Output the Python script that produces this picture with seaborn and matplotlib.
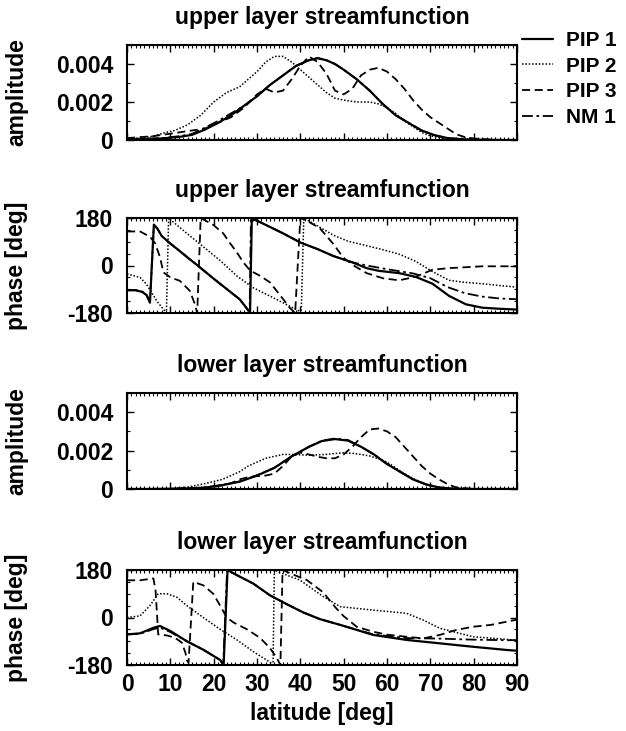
import matplotlib
matplotlib.use("Agg")
import matplotlib.pyplot as plt
import seaborn as sns
import numpy as np
from matplotlib.ticker import MultipleLocator

sns.set_theme(style="white")
plt.rcParams['font.family'] = ['Liberation Sans', 'DejaVu Sans']
plt.rcParams['font.weight'] = 'bold'
plt.rcParams['axes.titleweight'] = 'bold'
plt.rcParams['axes.labelweight'] = 'bold'
plt.rcParams['text.color'] = 'black'
plt.rcParams['axes.labelcolor'] = 'black'
plt.rcParams['xtick.color'] = 'black'
plt.rcParams['ytick.color'] = 'black'

# ---------------- data ----------------
series_names = ["PIP 1", "PIP 2", "PIP 3", "NM 1"]
panel_titles = ["upper layer streamfunction", "upper layer streamfunction",
                "lower layer streamfunction", "lower layer streamfunction"]
amp_ticks = [0, 0.002, 0.004]
amp_ticklabels = ["0", "0.002", "0.004"]
phase_ticks = [-180, 0, 180]
phase_ticklabels = ["-180", "0", "180"]
lat_ticks = [0, 10, 20, 30, 40, 50, 60, 70, 80, 90]

# upper layer amplitude
lat_amp_up_pip1 = [0, 4, 8, 12, 15, 18, 21, 24, 27, 30, 33, 36, 39, 42, 44, 46, 48, 50, 53, 56, 59, 62, 65, 68, 71, 74, 78, 82, 86, 90]
amp_up_pip1 = [0.00003, 0.00004, 0.00008, 0.00016, 0.00027, 0.00055, 0.0009, 0.0013, 0.0018, 0.0023, 0.0029, 0.0034, 0.0039, 0.0042, 0.0043, 0.0042, 0.0040, 0.0037, 0.0032, 0.0026, 0.0019, 0.0013, 0.0009, 0.0005, 0.00025, 0.0001, 0.00003, 0.00001, 0, 0]
amp_up_nm1 = [0.00004, 0.00006, 0.0001, 0.0002, 0.00032, 0.00065, 0.001, 0.0014, 0.0018, 0.0023, 0.0029, 0.0034, 0.0039, 0.0042, 0.00432, 0.0042, 0.0040, 0.0037, 0.0032, 0.0026, 0.0019, 0.0013, 0.0009, 0.0005, 0.00025, 0.0001, 0.00003, 0.00001, 0, 0]
lat_amp_up_pip2 = [0, 3, 6, 9, 11, 14, 17, 20, 23, 26, 28, 30, 32, 34, 36, 38, 40, 42, 44, 46, 48, 50, 53, 56, 58, 60, 62, 64, 66, 68, 70, 73, 76, 80, 85, 90]
amp_up_pip2 = [0.00005, 0.0001, 0.0002, 0.0004, 0.0005, 0.0008, 0.0013, 0.0020, 0.0025, 0.0028, 0.0032, 0.0036, 0.0041, 0.0044, 0.0044, 0.0041, 0.0037, 0.0033, 0.0029, 0.0025, 0.0022, 0.0021, 0.0020, 0.0020, 0.0019, 0.0017, 0.0014, 0.0010, 0.0007, 0.0004, 0.00022, 0.00008, 0.00003, 0.00001, 0, 0]
lat_amp_up_pip3 = [0, 3, 6, 9, 12, 15, 18, 21, 24, 27, 30, 32, 34, 36, 38, 40, 42, 44, 46, 48, 50, 52, 54, 56, 58, 60, 62, 64, 66, 68, 70, 72, 74, 76, 78, 80, 85, 90]
amp_up_pip3 = [0.0001, 0.00015, 0.0002, 0.0003, 0.0004, 0.0005, 0.0006, 0.0009, 0.0012, 0.0017, 0.0024, 0.0027, 0.0025, 0.0026, 0.0032, 0.0039, 0.0044, 0.0041, 0.0035, 0.0026, 0.0024, 0.0027, 0.0034, 0.0037, 0.0038, 0.0036, 0.0032, 0.0027, 0.0021, 0.0016, 0.0012, 0.0009, 0.0006, 0.0003, 0.00015, 0.00008, 0.00001, 0]

# upper layer phase
lat_ph_up_pip1 = [0, 2, 3.5, 4.5, 5.3, 6.2, 7, 8, 10, 12, 14, 16, 18, 20, 22, 24, 26, 28.4, 28.8, 30, 33, 36, 40, 44, 47.6, 52, 55.3, 58, 62.8, 66.6, 70.5, 74.3, 78.2, 82, 86, 90]
ph_up_pip1 = [-94, -94, -100, -112, -141, 155, 140, 112, 83, 57, 30, 4, -23, -50, -76, -102, -128, -178, 178, 170, 146, 122, 87, 62, 36, 12, -10, -20, -29, -43, -69, -115, -147, -160, -164, -167]
lat_ph_up_nm1 = [0, 2, 3.5, 4.5, 5.3, 6.2, 7, 8, 10, 12, 14, 16, 18, 20, 22, 24, 26, 28.3, 28.6, 30, 33, 36, 40, 44, 47.6, 52, 55.3, 60, 63, 66, 70, 74, 78, 82, 86, 90]
ph_up_nm1 = [-92, -93, -99, -110, -138, 152, 140, 112, 83, 57, 30, 4, -23, -50, -76, -102, -128, -178, 178, 170, 146, 122, 87, 62, 36, 12, 0, -14, -22, -30, -48, -82, -105, -118, -125, -128]
lat_ph_up_pip2 = [0, 3, 4.5, 6.9, 8.8, 9.1, 9.6, 10, 13.8, 17.6, 21.5, 25.3, 29.1, 33, 36.8, 39.9, 40.2, 40.8, 44, 47.6, 51, 55.3, 59, 62.8, 66.6, 70.5, 74.3, 78, 82, 86, 90]
ph_up_pip2 = [-32, -45, -71, -135, -174, -180, 180, 174, 122, 71, 19, -39, -84, -116, -148, -174, -180, 180, 150, 115, 92, 75, 60, 43, 16, -23, -56, -64, -69, -76, -82]
lat_ph_up_pip3 = [0, 3, 5.3, 6.5, 7.6, 8.4, 10, 12.2, 14.5, 15.7, 16.2, 17.0, 19.9, 22.2, 23.8, 25.3, 26.8, 28.4, 30.7, 33, 36.1, 37.6, 38.8, 40.0, 42, 44.5, 47.6, 49.9, 52.6, 55.3, 59.2, 62.8, 66.6, 70.5, 74.3, 82, 90]
ph_up_pip3 = [129, 129, 109, 84, 32, -26, -45, -58, -96, -148, -180, 180, 154, 122, 84, 51, 13, -19, -39, -64, -129, -161, -180, 180, 165, 141, 82, 30, -3, -29, -49, -56, -43, -16, -10, -3, -3]

# lower layer amplitude
lat_amp_lo_pip1 = [0, 5, 10, 14, 18, 22, 26, 30, 34, 38, 42, 45, 48, 51, 54, 57, 60, 63, 66, 69, 72, 75, 80, 85, 90]
amp_lo_pip1 = [0, 0, 0.00001, 0.00003, 0.00007, 0.0002, 0.00038, 0.0007, 0.0011, 0.0017, 0.0022, 0.0025, 0.0026, 0.00252, 0.0022, 0.0018, 0.0013, 0.0009, 0.0005, 0.00024, 0.00008, 0.00002, 0, 0, 0]
amp_lo_nm1 = [0, 0, 0.00001, 0.00003, 0.00008, 0.00021, 0.0004, 0.00072, 0.0011, 0.0017, 0.0022, 0.00252, 0.00263, 0.00255, 0.0022, 0.0018, 0.0013, 0.0009, 0.0005, 0.00024, 0.00008, 0.00002, 0, 0, 0]
lat_amp_lo_pip2 = [0, 5, 10, 14, 18, 22, 26, 28, 30, 32, 34, 36, 38, 40, 42, 44, 46, 48, 50, 52, 54, 56, 58, 60, 62, 64, 66, 68, 70, 72, 75, 80, 90]
amp_lo_pip2 = [0, 0, 0.00001, 0.0001, 0.00028, 0.0005, 0.0009, 0.0012, 0.0014, 0.0016, 0.0017, 0.0018, 0.0018, 0.00178, 0.00176, 0.00178, 0.0018, 0.00185, 0.00188, 0.00186, 0.0018, 0.00172, 0.00158, 0.0014, 0.0011, 0.0008, 0.00055, 0.00033, 0.00016, 0.00006, 0.00001, 0, 0]
lat_amp_lo_pip3 = [0, 10, 15, 20, 24, 26, 28, 30, 32, 34, 36, 38, 40, 42, 44, 46, 48, 50, 52, 54, 56, 58, 60, 62, 64, 66, 68, 70, 72, 74, 76, 80, 90]
amp_lo_pip3 = [0, 0.00001, 0.00004, 0.0001, 0.0003, 0.0005, 0.00062, 0.00067, 0.0007, 0.0008, 0.0012, 0.0017, 0.0019, 0.0018, 0.00168, 0.0016, 0.0016, 0.0018, 0.0022, 0.0027, 0.0031, 0.00315, 0.0030, 0.0027, 0.0022, 0.0017, 0.0012, 0.0008, 0.0005, 0.00025, 0.00008, 0, 0]

# lower layer phase
lat_ph_lo_pip1 = [0, 3, 6.1, 7.6, 10, 13.8, 17.6, 21.5, 22.3, 23.2, 25.3, 29.1, 33, 36.8, 40.7, 44.5, 49.2, 56.8, 64.5, 72.2, 79.9, 87.6, 90]
ph_lo_pip1 = [-64, -60, -39, -32, -51, -90, -122, -161, -180, 180, 161, 129, 84, 51, 19, -6, -28, -66, -85, -98, -111, -123, -126]
lat_ph_lo_nm1 = [0, 3, 6.1, 7.6, 10, 13.8, 17.6, 21.5, 22.2, 23.1, 25.3, 29.1, 33, 36.8, 40.7, 44.5, 49.2, 56.8, 64.5, 72.2, 79.9, 87.6, 90]
ph_lo_nm1 = [-64, -62, -44, -38, -55, -90, -122, -161, -180, 180, 161, 129, 84, 51, 19, -6, -28, -64, -78, -80, -84, -86, -86]
lat_ph_lo_pip2 = [0, 3, 5.3, 7.2, 9.2, 11.5, 13.8, 17.6, 21.5, 25.3, 29.1, 32.2, 33.4, 33.7, 34.0, 35.3, 39.9, 45.3, 49.2, 56.8, 64.5, 68.4, 72.2, 79.9, 90]
ph_lo_pip2 = [0, 6, 45, 90, 90, 77, 45, 0, -45, -84, -129, -161, -174, -180, 180, 170, 142, 79, 41, 28, 16, -10, -41, -73, -86]
lat_ph_lo_pip3 = [0, 3, 6.1, 6.6, 7.2, 9.2, 11.1, 12.7, 13.5, 13.8, 14.2, 15.3, 17.6, 19.9, 21.5, 23, 24.6, 27.7, 30.7, 33, 34.6, 35.4, 35.9, 38, 41.5, 45.3, 48, 50, 53, 56.8, 60, 64.5, 68.4, 72.2, 76, 79.9, 84, 90]
ph_lo_pip3 = [141, 141, 148, 100, -64, -68, -77, -96, -135, -161, -172, 135, 122, 90, 45, 0, -19, -45, -77, -116, -154, -180, 180, 165, 142, 95, 40, 5, -35, -54, -65, -73, -79, -66, -47, -35, -28, -8]

# ---------------- plotting ----------------
styles = {
    "PIP 1": dict(linestyle="-", lw=1.6),
    "PIP 2": dict(linestyle=(0, (1, 1.2)), lw=1.1),
    "PIP 3": dict(linestyle=(0, (4.5, 2.5)), lw=1.3),
    "NM 1": dict(linestyle=(0, (6, 2, 1.5, 2)), lw=1.3),
}

panels = [
    dict(kind="amp", data=[(lat_amp_up_pip1, amp_up_pip1), (lat_amp_up_pip2, amp_up_pip2),
                           (lat_amp_up_pip3, amp_up_pip3), (lat_amp_up_pip1, amp_up_nm1)]),
    dict(kind="ph", data=[(lat_ph_up_pip1, ph_up_pip1), (lat_ph_up_pip2, ph_up_pip2),
                          (lat_ph_up_pip3, ph_up_pip3), (lat_ph_up_nm1, ph_up_nm1)]),
    dict(kind="amp", data=[(lat_amp_lo_pip1, amp_lo_pip1), (lat_amp_lo_pip2, amp_lo_pip2),
                           (lat_amp_lo_pip3, amp_lo_pip3), (lat_amp_lo_pip1, amp_lo_nm1)]),
    dict(kind="ph", data=[(lat_ph_lo_pip1, ph_lo_pip1), (lat_ph_lo_pip2, ph_lo_pip2),
                          (lat_ph_lo_pip3, ph_lo_pip3), (lat_ph_lo_nm1, ph_lo_nm1)]),
]

W, H = 626, 731
fig = plt.figure(figsize=(W / 100, H / 100), dpi=100)
fig.patch.set_facecolor("white")

left_px, right_px = 127, 517
tops = [45, 218, 393, 570]
bottoms = [140, 313, 489, 665]
FS = 16.5

axes = []
for i, p in enumerate(panels):
    ax = fig.add_axes([left_px / W, 1 - bottoms[i] / H, (right_px - left_px) / W,
                       (bottoms[i] - tops[i]) / H])
    axes.append(ax)
    for name, (xs, ys) in zip(series_names, p["data"]):
        st = styles[name]
        sns.lineplot(x=np.array(xs, float), y=np.array(ys, float), ax=ax, color="black",
                     estimator=None, sort=False, label=name if i == 0 else None,
                     linestyle=st["linestyle"], lw=st["lw"])
    ax.set_xlim(0, 90)
    ax.xaxis.set_major_locator(MultipleLocator(10))
    ax.xaxis.set_minor_locator(MultipleLocator(1))
    if p["kind"] == "amp":
        ax.set_ylim(0, 0.005)
        ax.set_yticks(amp_ticks)
        ax.set_yticklabels(amp_ticklabels)
        ax.yaxis.set_minor_locator(MultipleLocator(0.001))
        ax.set_ylabel("amplitude", fontsize=FS)
    else:
        ax.set_ylim(-180, 180)
        ax.set_yticks(phase_ticks)
        ax.set_yticklabels(phase_ticklabels)
        ax.yaxis.set_minor_locator(MultipleLocator(45))
        ax.set_ylabel("phase [deg]", fontsize=FS)
    ax.yaxis.set_label_coords((28 - left_px) / (right_px - left_px), 0.5)
    ax.set_title(panel_titles[i], fontsize=FS, pad=15)
    ax.tick_params(which="both", direction="in", top=True, right=True, bottom=True, left=True,
                   colors="black", labelsize=FS)
    ax.tick_params(which="major", length=5, width=1)
    ax.tick_params(which="minor", length=2.5, width=0.8)
    ax.tick_params(axis="y", pad=10)
    ax.tick_params(axis="x", pad=6)
    for s in ax.spines.values():
        s.set_color("black")
        s.set_linewidth(1.5)
    if i < 3:
        ax.set_xticklabels([])
        ax.set_xlabel("")
    else:
        ax.set_xticks(lat_ticks)
        ax.set_xticklabels([str(t) for t in lat_ticks])
        ax.set_xlabel("latitude [deg]", fontsize=FS, labelpad=4)
    if ax.get_legend() is not None:
        ax.get_legend().remove()

handles, labels = axes[0].get_legend_handles_labels()
fig.legend(handles, labels, loc="upper left", bbox_to_anchor=(522 / W, 1 - 31 / H),
           frameon=False, fontsize=15, handlelength=1.5, handletextpad=0.6,
           labelspacing=0.32, borderpad=0, borderaxespad=0)

fig.savefig("out.png", dpi=100, facecolor="white")
